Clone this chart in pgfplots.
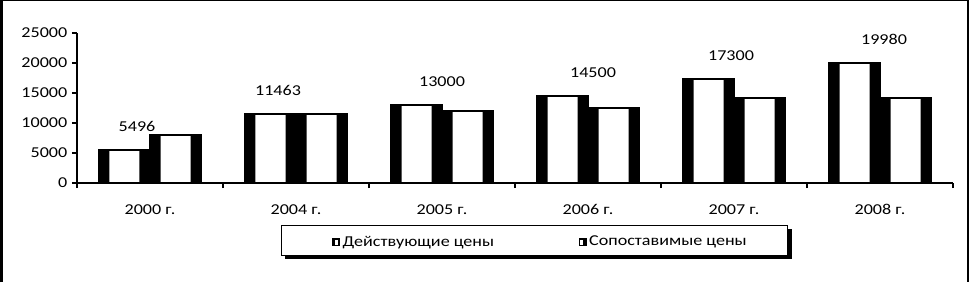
\documentclass[border=0pt]{standalone}
\usepackage{pgfplots}
\pgfplotsset{compat=1.18}
\usepackage{pgfplotstable}
\usepackage{fontspec}
\setmainfont{Carlito}[FakeStretch=1.2]
\pgfplotstableread{
x v1 v2 dx
0 5496 8000 -13
1 11463 11463 -18
2 13000 12000 0
3 14500 12500 5
4 17300 14200 -3
5 19980 14200 4
}\data
\begin{document}
\begin{tikzpicture}[x=0.75pt,y=0.75pt]
\path[use as bounding box] (0,0) rectangle (970,282);
\begin{axis}[
  at={(57.75pt,74.25pt)}, anchor=south west,
  scale only axis, width=657pt, height=112.5pt,
  xmin=-0.5, xmax=5.5, ymin=0, ymax=25000,
  axis x line*=bottom, axis y line*=left,
  axis line style={line width=0.9pt},
  xtick={0,...,5},
  xticklabels={2000 г.,2004 г.,2005 г.,2006 г.,2007 г.,2008 г.},
  major x tick style={draw=none},
  minor xtick={-0.5,0.5,1.5,2.5,3.5,4.5,5.5},
  ytick={0,5000,10000,15000,20000,25000},
  tick align=outside, major tick length=3.75pt, minor tick length=3.75pt,
  tick style={line width=0.9pt, black},
  scaled y ticks=false,
  /pgf/number format/1000 sep={},
  /pgf/number format/assume math mode=true,
  tick label style={font=\fontsize{11.3}{13}\selectfont},
  xticklabel style={anchor=base, yshift=-20pt},
  legend style={at={(0.2911,-0.3933)}, anchor=west, draw=none, fill=none,
    inner sep=0pt, font=\fontsize{11.3}{13}\selectfont,
    /tikz/every even column/.append style={column sep=61.5pt}},
  legend columns=2, legend cell align=left,
]
% series 1 : Действующие цены
\addplot[ybar, bar width=38.25pt, bar shift=-19.125pt, fill=black, draw=none, forget plot] table[x=x,y=v1]{\data};
\addplot[ybar, bar width=22.5pt, bar shift=-19.125pt, fill=white, draw=none, forget plot] table[x=x,y=v1]{\data};
\addplot[ybar, bar width=38.25pt, bar shift=-19.125pt, fill=none, draw=black, line width=1.4pt, forget plot,
  nodes near coords, point meta=explicit symbolic,
  visualization depends on={\thisrow{dx}\as\dx},
  every node near coord/.append style={anchor=base, yshift=14pt, xshift={\dx*0.75pt}, font=\fontsize{11.3}{13}\selectfont, black}]
  table[x=x,y=v1,meta=v1]{\data};
% series 2 : Сопоставимые цены
\addplot[ybar, bar width=38.25pt, bar shift=19.125pt, fill=black, draw=none, forget plot] table[x=x,y=v2]{\data};
\addplot[ybar, bar width=22.5pt, bar shift=19.125pt, fill=white, draw=none, forget plot] table[x=x,y=v2]{\data};
\addplot[ybar, bar width=38.25pt, bar shift=19.125pt, fill=none, draw=black, line width=1.4pt, forget plot] table[x=x,y=v2]{\data};
\addlegendimage{legend image code/.code={\fill[black] (0pt,-2.6pt) rectangle (5.4pt,2.6pt); \fill[white] (2.1pt,-1.5pt) rectangle (3.3pt,1.5pt);}}
\addlegendentry{Действующие цены}
\addlegendimage{legend image code/.code={\fill[black] (0pt,-2.6pt) rectangle (5.4pt,2.6pt); \fill[white] (0.9pt,-1.5pt) rectangle (2.4pt,1.5pt);}}
\addlegendentry{Сопоставимые цены}
\end{axis}
% legend frame with shadow
\draw[line width=0.6pt] (281,57) rectangle (787,27);
\draw[line width=3pt] (285,25) -- (790,25) -- (790,53);
% outer frame
\draw[line width=1.5pt] (1.5,0) -- (1.5,281.5) -- (967.5,281.5) -- (967.5,0);
\end{tikzpicture}
\end{document}
